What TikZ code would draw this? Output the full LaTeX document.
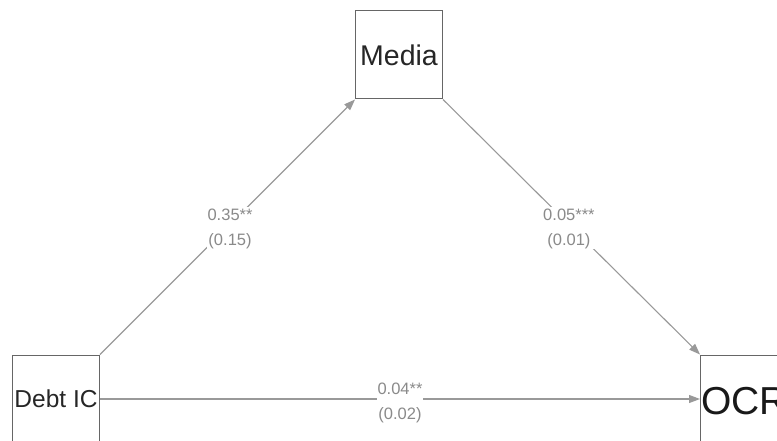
\documentclass[tikz,border=0pt]{standalone}
\usepackage{fontspec}
\setmainfont{Liberation Sans}
\usetikzlibrary{arrows.meta}
\definecolor{boxline}{HTML}{666666}
\definecolor{edgeline}{HTML}{999999}
\definecolor{labeltext}{HTML}{8A8A8A}
\tikzset{
  varbox/.style={draw=boxline, line width=1pt, minimum width=87pt, minimum height=88pt, inner sep=0pt, text=black!85},
  path/.style={draw=edgeline, line width=1.1pt, -{Triangle[length=11pt,width=8pt]}},
  coef/.style={fill=white, text=labeltext, align=center, font=\fontsize{16.5}{25}\selectfont, inner sep=1pt, yshift=-4pt}
}
\begin{document}
\begin{tikzpicture}[x=1pt,y=-1pt]
\useasboundingbox (0,0) rectangle (777,441);
\clip (0,0) rectangle (777,441);
\node[varbox, font=\fontsize{28.5}{30}\selectfont] (media) at (399,55) {Media};
\node[varbox, font=\fontsize{24.5}{26}\selectfont] (debt) at (56,399) {Debt IC};
\node[varbox] (ocr) at (744,399) {};
\node[anchor=west, inner sep=0pt, font=\fontsize{39}{40}\selectfont, text=black!90] (ocrtext) at (701,401) {OCR};
\draw[path] (debt.north east) -- node[coef, pos=0.51] {0.35**\\(0.15)} (media.south west);
\draw[path] (media.south east) -- node[coef, pos=0.49] {0.05***\\(0.01)} (ocr.north west);
\draw[path] (debt.east) -- node[coef] {0.04**\\(0.02)} (ocr.west);
\end{tikzpicture}
\end{document}
